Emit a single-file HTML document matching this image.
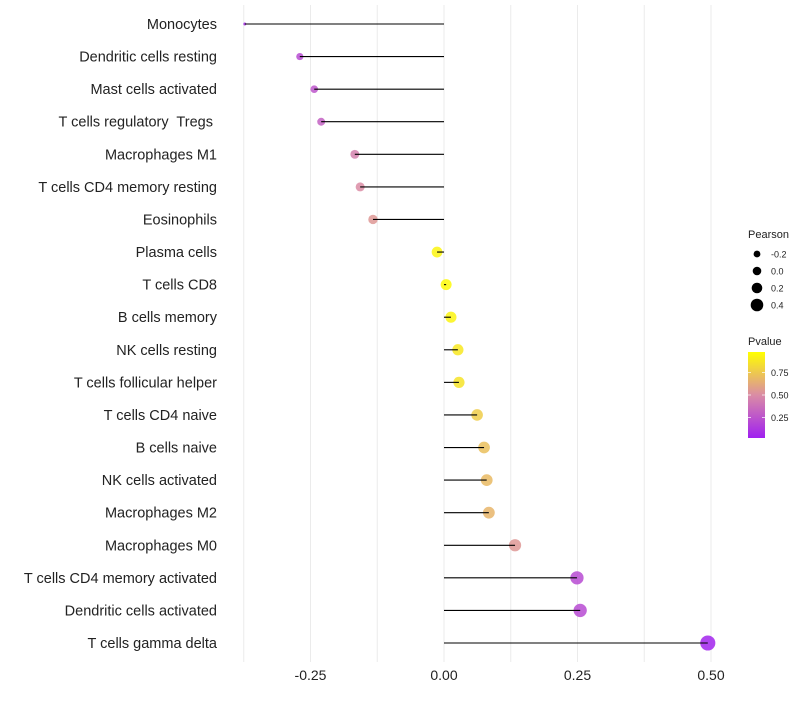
<!DOCTYPE html>
<html><head><meta charset="utf-8"><style>
body{margin:0;background:#fff;font-family:"Liberation Sans",sans-serif}
text{white-space:pre}
</style></head><body>
<svg id="chart" width="800" height="700" xmlns="http://www.w3.org/2000/svg" font-family="Liberation Sans, sans-serif"></svg>
<script>
const categories=["Monocytes","Dendritic cells resting","Mast cells activated","T cells regulatory  Tregs ","Macrophages M1","T cells CD4 memory resting","Eosinophils","Plasma cells","T cells CD8","B cells memory","NK cells resting","T cells follicular helper","T cells CD4 naive","B cells naive","NK cells activated","Macrophages M2","Macrophages M0","T cells CD4 memory activated","Dendritic cells activated","T cells gamma delta"];
const pearson=[-0.373,-0.27,-0.243,-0.23,-0.167,-0.157,-0.133,-0.013,0.004,0.013,0.026,0.028,0.062,0.075,0.08,0.084,0.133,0.249,0.255,0.494];
const pvalues=[0.05,0.2,0.25,0.3,0.45,0.5,0.55,0.95,0.98,0.95,0.9,0.88,0.78,0.72,0.7,0.68,0.55,0.2,0.2,0.02];
const xTicks=[-0.25,0,0.25,0.5];
const xTickLabels=["-0.25","0.00","0.25","0.50"];
const sizeLegend=[-0.2,0.0,0.2,0.4];
const colorLegend=[0.75,0.5,0.25];

const svg=document.getElementById('chart');
const NS='http://www.w3.org/2000/svg';
function mk(t,a,p){const e=document.createElementNS(NS,t);for(const k in a)e.setAttribute(k,a[k]);(p||svg).appendChild(e);return e;}
const xs=v=>444+v*534;
const ys=i=>24+i*(643-24)/(categories.length-1);
const pMin=Math.min(...pearson);
const rs=v=>1.5+6.5*Math.sqrt(Math.max(0,v-pMin));
function lerp(a,b,t){return a.map((c,i)=>Math.round(c+(b[i]-c)*t));}
function col(p){const s=[[160,32,240],[218,140,165],[255,255,0]];
 let c=p<0.5?lerp(s[0],s[1],p/0.5):lerp(s[1],s[2],(p-0.5)/0.5);return `rgb(${c.join(',')})`;}
for(let v=-0.375;v<=0.51;v+=0.125){
 const g=mk('line',{x1:xs(v),x2:xs(v),y1:5,y2:662,stroke:'#ebebeb','stroke-width':1});
 }
xTicks.forEach((v,i)=>{const t=mk('text',{x:xs(v),y:680,'text-anchor':'middle','font-size':14,fill:'#222'});t.textContent=xTickLabels[i];
 });
categories.forEach((c,i)=>{
 const y=ys(i);
 const t=mk('text',{x:217,y:y+5,'text-anchor':'end','font-size':14.5,fill:'#222'});t.textContent=c;
 
 const d=mk('circle',{cx:xs(pearson[i]),cy:y,r:rs(pearson[i]),fill:col(pvalues[i]),'fill-opacity':0.85});
 
 const l=mk('line',{x1:xs(0),x2:xs(pearson[i]),y1:y,y2:y,stroke:'#000','stroke-width':1.1});
 
});
let t=mk('text',{x:748,y:238,'font-size':11,fill:'#222'});t.textContent='Pearson';

const legR=[3.4,4.3,5.3,6.3];
sizeLegend.forEach((v,i)=>{const y=254+i*17;
 const c=mk('circle',{cx:757,cy:y,r:legR[i],fill:'#000'});
 const tt=mk('text',{x:771,y:y+3.5,'font-size':9,fill:'#222'});tt.textContent=v.toFixed(1);
 });
t=mk('text',{x:748,y:345,'font-size':11,fill:'#222'});t.textContent='Pvalue';

const defs=mk('defs',{});const gr=mk('linearGradient',{id:'pg',x1:0,y1:1,x2:0,y2:0},defs);
[[0,'#a020f0'],[0.5,'#da8ca5'],[1,'#ffff00']].forEach(s=>mk('stop',{offset:s[0],'stop-color':s[1]},gr));
const cb=mk('rect',{x:748,y:352,width:17,height:86,fill:'url(#pg)'});

const py=p=>438-(p-0.02)/0.96*86;
colorLegend.forEach(v=>{const y=py(v);
 mk('line',{x1:748,x2:751,y1:y,y2:y,stroke:'#fff','stroke-width':0.7});mk('line',{x1:762,x2:765,y1:y,y2:y,stroke:'#fff','stroke-width':0.7});
 const tt=mk('text',{x:771,y:y+3.5,'font-size':9,fill:'#222'});tt.textContent=v.toFixed(2);
 });
</script>
</body></html>
